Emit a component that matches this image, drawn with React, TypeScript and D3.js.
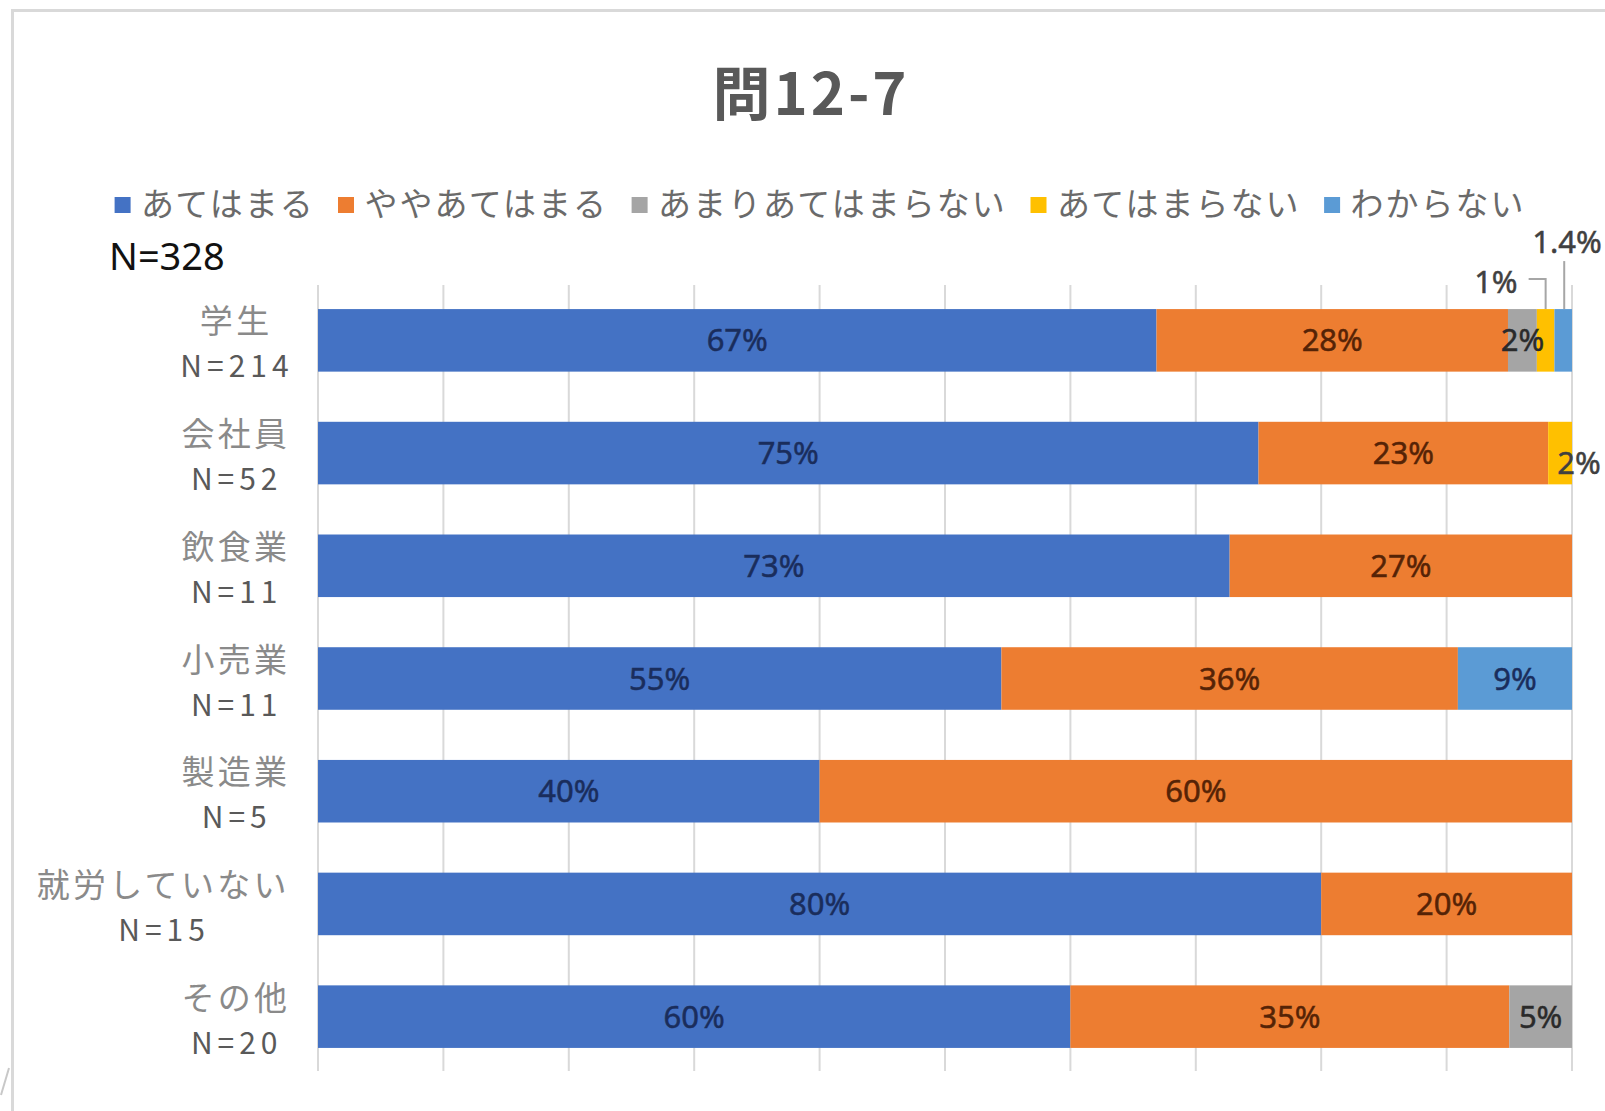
import React from 'react';
import * as d3 from 'd3';

const categories = ['学生', '会社員', '飲食業', '小売業', '製造業', '就労していない', 'その他'];
const sampleSizes = ['N=214', 'N=52', 'N=11', 'N=11', 'N=5', 'N=15', 'N=20'];
const seriesNames = ['あてはまる', 'ややあてはまる', 'あまりあてはまらない', 'あてはまらない', 'わからない'];
const seriesColors = ['#4472c4', '#ed7d31', '#a5a5a5', '#ffc000', '#5b9bd5'];
const labelColors = ['#1a2d5c', '#552306', '#2a2a2a', '#404040', '#1a2d5c'];

const atehamaru = [66.8, 75.0, 72.7, 54.5, 40.0, 80.0, 60.0];
const yayaAtehamaru = [28.0, 23.1, 27.3, 36.4, 60.0, 20.0, 35.0];
const amariAtehamaranai = [2.3, 0, 0, 0, 0, 0, 5.0];
const atehamaranai = [1.4, 1.9, 0, 0, 0, 0, 0];
const wakaranai = [1.4, 0, 0, 9.1, 0, 0, 0];

const seriesValues = [atehamaru, yayaAtehamaru, amariAtehamaranai, atehamaranai, wakaranai];
const gridTicks = [0, 0.1, 0.2, 0.3, 0.4, 0.5, 0.6, 0.7, 0.8, 0.9, 1.0];

const title = '問12-7';
const totalN = 'N=328';

const W = 1605;
const H = 1111;
const plot = { left: 318, right: 1572, top: 284, bottom: 1073 };
const JP = "'Noto Sans CJK JP', 'Noto Sans', sans-serif";
const LAT = "'Noto Sans', 'Open Sans', sans-serif";

function fmt(v: number, s: number, i: number) {
  if (s === 4 && i === 0) return v.toFixed(1) + '%';
  return Math.round(v) + '%';
}

export default function App() {
  const rows = categories.map((c, i) => {
    const o: any = { cat: c };
    seriesNames.forEach((s, k) => (o[s] = seriesValues[k][i]));
    return o;
  });
  const stacked = d3.stack<any>().keys(seriesNames).offset(d3.stackOffsetExpand)(rows);

  const x = d3.scaleLinear().domain([0, 1]).range([plot.left, plot.right]);
  const y = d3
    .scaleBand<string>()
    .domain(categories)
    .range([plot.top, plot.bottom])
    .paddingInner(0.445)
    .paddingOuter(0.2225);
  const bw = y.bandwidth();

  // legend layout
  const legendPitch = 35.1;
  let lx = 114.6;
  const legendItems = seriesNames.map((s, k) => {
    const item = { s, k, x: lx };
    lx += 26.4 + s.length * legendPitch + 21.5;
    return item;
  });

  const labels: any[] = [];
  const callouts: any[] = [];
  stacked.forEach((layer, s) => {
    layer.forEach((d, i) => {
      const v = seriesValues[s][i];
      if (!v) return;
      const x0 = x(d[0]);
      const x1 = x(d[1]);
      const cx = (x0 + x1) / 2;
      const top = y(categories[i])!;
      const cy = top + bw / 2;
      const text = fmt(v, s, i);
      if (s === 3 && i === 0) {
        labels.push({ key: `${s}-${i}`, x: cx - 28, y: top - 16, text, anchor: 'end', color: '#404040' });
        callouts.push({ key: `c${s}-${i}`, d: `M${cx - 17},${top - 30}H${cx}V${top}` });
      } else if (s === 4 && i === 0) {
        labels.push({ key: `${s}-${i}`, x: cx - 31, y: top - 56, text, anchor: 'start', color: '#404040' });
        callouts.push({ key: `c${s}-${i}`, d: `M${cx + 1},${top - 48}V${top}` });
      } else if (s === 3 && i === 1) {
        labels.push({ key: `${s}-${i}`, x: cx + 19, y: cy + 21, text, anchor: 'middle', color: '#404040' });
      } else {
        labels.push({ key: `${s}-${i}`, x: cx, y: cy + 11, text, anchor: 'middle', color: labelColors[s] });
      }
    });
  });

  const labelRight = 287;
  const catPitch = 36.3;
  const catInk = 33;
  const catLS = 3.3;
  const nPitch = 22;
  const nLS = 5;

  return (
    <svg
      width={W}
      height={H}
      viewBox={`0 0 ${W} ${H}`}
      style={{ position: 'absolute', left: 0, top: 0, background: '#fff' }}
    >
      <rect x={0} y={0} width={W} height={H} fill="#fff" />
      {/* chart frame */}
      <path d={`M12.5,${H}V10.5H${W}`} fill="none" stroke="#d9d9d9" strokeWidth={3} />
      <path d="M1,1095L9,1068" stroke="#c8c8c8" strokeWidth={2} />

      {/* title */}
      <text
        x={811}
        y={115}
        textAnchor="middle"
        fontFamily={JP}
        fontWeight={700}
        fontSize={58}
        letterSpacing={3}
        fill="#595959"
      >
        {title}
      </text>

      {/* legend */}
      {legendItems.map((it) => (
        <g key={it.s}>
          <rect x={it.x} y={197} width={16} height={16} fill={seriesColors[it.k]} />
          <text
            x={it.x + 26.4}
            y={216}
            fontFamily={JP}
            fontSize={33}
            letterSpacing={2}
            fill="#6a6a6a"
          >
            {it.s}
          </text>
        </g>
      ))}

      <text x={109} y={270} fontFamily={LAT} fontSize={38} fill="#111">
        {totalN}
      </text>

      {/* gridlines */}
      {gridTicks.map((t) => (
        <line
          key={t}
          x1={x(t)}
          x2={x(t)}
          y1={plot.top + 1}
          y2={plot.bottom - 2}
          stroke="#d9d9d9"
          strokeWidth={2}
        />
      ))}

      {/* bars */}
      {stacked.map((layer, s) => (
        <g key={layer.key} fill={seriesColors[s]}>
          {layer.map((d, i) =>
            seriesValues[s][i] ? (
              <rect
                key={i}
                x={x(d[0])}
                y={y(categories[i])}
                width={Math.max(0, x(d[1]) - x(d[0]))}
                height={bw}
              />
            ) : null
          )}
        </g>
      ))}

      {/* callout lines */}
      {callouts.map((c) => (
        <path key={c.key} d={c.d} fill="none" stroke="#a6a6a6" strokeWidth={2} />
      ))}

      {/* data labels */}
      {labels.map((l) => (
        <text
          key={l.key}
          x={l.x}
          y={l.y}
          textAnchor={l.anchor}
          fontFamily={LAT}
          fontSize={31}
          fill={l.color}
          stroke={l.color}
          strokeWidth={0.5}
        >
          {l.text}
        </text>
      ))}

      {/* category labels */}
      {categories.map((c, i) => {
        const cy = y(c)! + bw / 2;
        const wCat = (c.length - 1) * catPitch + catInk;
        const wN = sampleSizes[i].length * nPitch - nLS;
        const center = labelRight - Math.max(wCat, wN) / 2;
        return (
          <g key={c}>
            <text
              x={center + catLS / 2}
              y={cy - 7}
              textAnchor="middle"
              fontFamily={JP}
              fontSize={33}
              letterSpacing={catLS}
              fill="#8a8a8a"
            >
              {c}
            </text>
            <text
              x={center + nLS / 2}
              y={cy + 37}
              textAnchor="middle"
              fontFamily={JP}
              fontSize={30}
              letterSpacing={nLS}
              fill="#595959"
            >
              {sampleSizes[i]}
            </text>
          </g>
        );
      })}
    </svg>
  );
}
